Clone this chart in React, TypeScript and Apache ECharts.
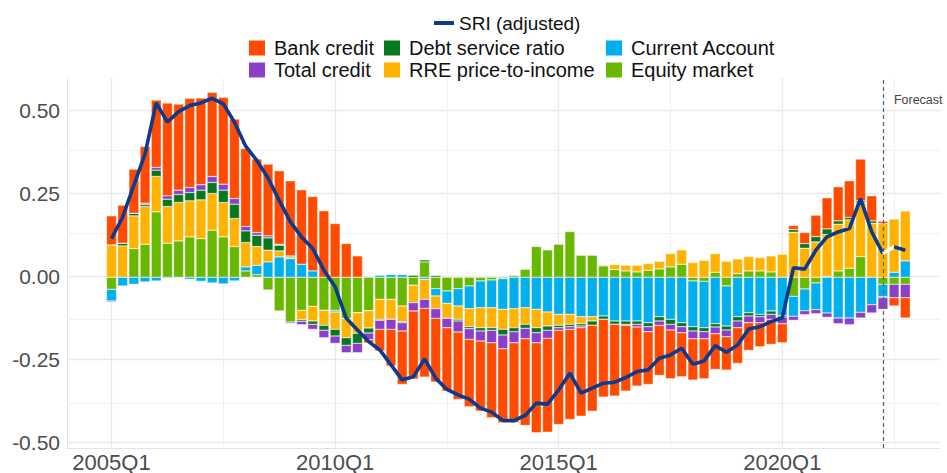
import React, { useEffect, useRef } from "react";
import * as echarts from "echarts";

// ---------- data ----------
const quarters: string[] = [];
for (let y = 2005; y <= 2022; y++) for (let q = 1; q <= 4; q++) quarters.push(`${y}Q${q}`);

const equityMarket = [
  -0.036, 0, 0.086, 0.099, 0.196, 0.102, 0.109, 0.121, 0.116, 0.141, 0.121, 0.092,
  0.019, 0.008, -0.038, -0.101, -0.134, -0.099, -0.087, -0.099, -0.099, -0.124, -0.106, -0.1,
  -0.066, -0.066, -0.086, -0.024, 0.046, -0.034, -0.041, -0.034, -0.026, -0.011, -0.008, -0.004,
  0.005, 0.024, 0.092, 0.082, 0.099, 0.137, 0.066, 0.066, 0.034, 0.023, 0.019, 0.016,
  0.021, 0.025, 0.031, 0.039, -0.011, -0.012, 0.015, -0.026, 0.011, 0.019, 0.019, 0.016,
  0, -0.057, -0.035, -0.017, 0.003, 0.019, 0.027, 0.062, 0, -0.021, -0.021, -0.021,
];
const currentAccount = [
  -0.035, -0.026, -0.021, -0.014, -0.011, -0.003, -0.002, -0.006, -0.012, -0.017, -0.02, -0.011,
  0.012, 0.028, 0.046, 0.061, 0.056, 0.039, 0.019, 0, -0.005, 0, 0, 0,
  0.006, 0.008, 0.008, 0, -0.006, -0.022, -0.037, -0.052, -0.068, -0.08, -0.083, -0.092,
  -0.094, -0.091, -0.096, -0.104, -0.111, -0.111, -0.118, -0.118, -0.116, -0.131, -0.131, -0.131,
  -0.136, -0.118, -0.126, -0.136, -0.137, -0.139, -0.139, -0.12, -0.118, -0.106, -0.111, -0.101,
  -0.114, -0.06, -0.065, -0.08, -0.107, -0.122, -0.122, -0.105, -0.082, -0.037, 0.015, 0.049,
];
const rrePriceToIncome = [
  0.097, 0.094, 0.098, 0.113, 0.106, 0.11, 0.115, 0.108, 0.116, 0.11, 0.103, 0.084,
  0.073, 0.056, 0.035, 0.018, 0.005, -0.028, -0.044, -0.045, -0.052, -0.057, -0.062, -0.052,
  -0.06, -0.06, -0.047, -0.052, -0.06, -0.038, -0.045, -0.04, -0.054, -0.06, -0.06, -0.06,
  -0.057, -0.05, -0.055, -0.042, -0.033, -0.03, -0.021, -0.013, 0.003, 0.015, 0.017, 0.02,
  0.02, 0.023, 0.04, 0.043, 0.044, 0.051, 0.056, 0.048, 0.044, 0.043, 0.04, 0.048,
  0.069, 0.135, 0.087, 0.106, 0.125, 0.14, 0.145, 0.162, 0.162, 0.161, 0.16, 0.15,
];
const debtServiceRatio = [
  0, 0.008, 0.008, 0.006, 0.019, 0.022, 0.024, 0.025, 0.029, 0.033, 0.037, 0.043,
  0.035, 0.034, 0.037, 0.017, 0.003, -0.005, -0.01, -0.015, -0.02, -0.023, -0.03, -0.015,
  -0.003, 0, -0.003, 0.006, 0.006, 0.005, 0, -0.005, -0.006, -0.01, -0.008, -0.017,
  -0.012, -0.012, -0.015, -0.013, -0.007, -0.007, -0.007, -0.013, -0.01, -0.01, -0.01, -0.01,
  -0.012, -0.013, -0.015, -0.012, -0.013, -0.012, -0.01, -0.012, -0.013, -0.01, -0.007, -0.01,
  -0.005, 0.008, 0.014, 0.016, 0.017, 0.01, 0.007, 0.005, 0.007, -0.003, 0, 0,
];
const totalCredit = [
  -0.003, 0, 0, 0.004, 0.008, 0.01, 0.013, 0.015, 0.016, 0.018, 0.018, 0.017,
  0.013, 0.008, 0.006, 0.003, -0.004, -0.01, -0.015, -0.022, -0.022, -0.022, -0.028, -0.02,
  -0.027, -0.03, -0.025, -0.025, -0.027, -0.029, -0.028, -0.033, -0.032, -0.03, -0.037, -0.041,
  -0.033, -0.031, -0.03, -0.024, -0.008, -0.008, -0.005, 0, 0, 0, -0.003, -0.008,
  -0.015, -0.013, -0.017, -0.018, -0.023, -0.021, -0.02, -0.02, -0.02, -0.02, -0.018, -0.015,
  -0.02, -0.012, -0.012, -0.012, -0.013, -0.017, -0.02, -0.017, -0.025, -0.035, -0.04, -0.04,
];
const bankCredit = [
  0.087, 0.114, 0.132, 0.17, 0.202, 0.278, 0.258, 0.267, 0.26, 0.252, 0.26, 0.238,
  0.234, 0.22, 0.215, 0.22, 0.225, 0.223, 0.223, 0.199, 0.161, 0.101, 0.064, -0.01,
  -0.065, -0.11, -0.16, -0.204, -0.206, -0.191, -0.19, -0.202, -0.202, -0.21, -0.225, -0.222,
  -0.24, -0.26, -0.27, -0.281, -0.282, -0.27, -0.265, -0.257, -0.233, -0.215, -0.197, -0.177,
  -0.158, -0.15, -0.146, -0.132, -0.124, -0.12, -0.107, -0.1, -0.107, -0.083, -0.072, -0.075,
  -0.057, 0.012, 0.033, 0.064, 0.093, 0.102, 0.11, 0.125, 0.075, 0.007, -0.025, -0.061,
];
const sriAdjusted = [
  0.114, 0.179, 0.274, 0.369, 0.522, 0.464, 0.496, 0.514, 0.522, 0.536, 0.519, 0.464,
  0.392, 0.349, 0.296, 0.229, 0.164, 0.119, 0.084, 0.019, -0.031, -0.126, -0.161, -0.196,
  -0.221, -0.266, -0.311, -0.302, -0.248, -0.306, -0.34, -0.356, -0.369, -0.396, -0.408, -0.433,
  -0.434, -0.418, -0.381, -0.384, -0.341, -0.291, -0.351, -0.336, -0.321, -0.318, -0.304, -0.286,
  -0.281, -0.246, -0.236, -0.216, -0.264, -0.254, -0.208, -0.228, -0.206, -0.158, -0.151, -0.136,
  -0.124, 0.026, 0.022, 0.079, 0.119, 0.134, 0.144, 0.234, 0.134, 0.069, 0.089, 0.079,
];

const xTickLabels = ["2005Q1", "2010Q1", "2015Q1", "2020Q1"];
const xMinorLabels = ["2007Q3", "2012Q3", "2017Q3", "2022Q3"];
const yTicks = [-0.5, -0.25, 0, 0.25, 0.5];
const yMinorTicks = [-0.375, -0.125, 0.125, 0.375];
const forecastQuarter = "2022Q2";
const gapQuarter = "2022Q3";

// ---------- style ----------
const FONT = "'Liberation Sans', Arial, Helvetica, sans-serif";
const COLORS = {
  bank: "#FF4B00",
  total: "#8A3FC9",
  dsr: "#08781F",
  rre: "#FFB300",
  ca: "#00AFEC",
  equity: "#68B800",
  sri: "#0B3A8E",
};

// panel geometry (pixels)
const PANEL_LEFT = 67;
const PANEL_RIGHT = 940;
const FIRST_X = 111.5;
const STEP = 11.18;
const Y_MIN = -0.516;
const Y_MAX = 0.597;

export default function App() {
  const ref = useRef<HTMLDivElement>(null);

  useEffect(() => {
    if (!ref.current) return;
    const chart = echarts.init(ref.current, undefined, { renderer: "svg" });
    const idx = (q: string) => quarters.indexOf(q);
    const pts = (arr: number[]) => arr.map((v, i) => [i, v]);
    const fIdx = idx(forecastQuarter);
    const gIdx = idx(gapQuarter);

    const xMin = -(FIRST_X - PANEL_LEFT) / STEP;
    const xMax = (PANEL_RIGHT - FIRST_X) / STEP;
    const barLeft = FIRST_X - STEP / 2;
    const barRight = 947 - (barLeft + quarters.length * STEP);

    const barSeries = (name: string, arr: number[], color: string) => ({
      name,
      type: "bar",
      stack: "contrib",
      xAxisIndex: 1,
      yAxisIndex: 1,
      barWidth: 10,
      data: arr,
      itemStyle: { color, borderColor: "#ffffff", borderWidth: 0.4 },
      emphasis: { disabled: true },
      z: 2,
    });

    const legendBase = {
      orient: "vertical",
      top: 38,
      padding: 0,
      icon: "rect",
      itemWidth: 18,
      itemHeight: 17,
      itemGap: 2,
      selectedMode: false,
      textStyle: { fontFamily: FONT, fontSize: 20, color: "#111", lineHeight: 17, padding: [0, 0, 0, 3] },
    };

    const option: any = {
      animation: false,
      backgroundColor: "#ffffff",
      textStyle: { fontFamily: FONT },
      grid: [
        { left: PANEL_LEFT, right: 947 - PANEL_RIGHT, top: 78, bottom: 23.5, containLabel: false },
        { left: barLeft, right: barRight, top: 78, bottom: 23.5, containLabel: false },
      ],
      legend: [
        {
          data: ["SRI (adjusted)"],
          left: 434,
          top: 13,
          padding: 0,
          icon: "rect",
          itemWidth: 20,
          itemHeight: 4,
          selectedMode: false,
          textStyle: { fontFamily: FONT, fontSize: 19, color: "#111", lineHeight: 20 },
        },
        { ...legendBase, left: 247, data: ["Bank credit", "Total credit"] },
        { ...legendBase, left: 382, data: ["Debt service ratio", "RRE price-to-income"] },
        { ...legendBase, left: 604, data: ["Current Account", "Equity market"] },
      ],
      xAxis: [
        {
          type: "value",
          gridIndex: 0,
          min: xMin,
          max: xMax,
          axisLine: { show: true, onZero: false, lineStyle: { color: "#e3e3e3", width: 1 } },
          axisTick: { show: false },
          splitLine: { show: false },
          axisLabel: {
            customValues: xTickLabels.map(idx),
            formatter: (v: number) => quarters[Math.round(v)],
            fontFamily: FONT,
            fontSize: 22,
            color: "#4d4d4d",
            margin: 3,
          },
        },
        {
          type: "category",
          gridIndex: 1,
          data: quarters,
          boundaryGap: true,
          show: false,
        },
      ],
      yAxis: [
        {
          type: "value",
          gridIndex: 0,
          min: Y_MIN,
          max: Y_MAX,
          axisLine: { show: true, onZero: false, lineStyle: { color: "#e3e3e3", width: 1 } },
          axisTick: { show: false },
          splitLine: { show: false },
          axisLabel: {
            customValues: yTicks,
            formatter: (v: number) => v.toFixed(2),
            fontFamily: FONT,
            fontSize: 21,
            color: "#4d4d4d",
            margin: 7,
          },
        },
        {
          type: "value",
          gridIndex: 1,
          min: Y_MIN,
          max: Y_MAX,
          show: false,
          splitLine: { show: false },
        },
      ],
      series: [
        {
          type: "line",
          name: "grid-major",
          data: [],
          silent: true,
          markLine: {
            silent: true,
            z: 1,
            symbol: ["none", "none"],
            label: { show: false },
            emphasis: { disabled: true },
            lineStyle: { color: "#e9e9e9", width: 1.3, type: "solid" },
            data: [
              ...xTickLabels.map((q) => ({ xAxis: idx(q) })),
              ...yTicks.map((v) => ({ yAxis: v })),
            ],
          },
        },
        {
          type: "line",
          name: "grid-minor",
          data: [],
          silent: true,
          markLine: {
            silent: true,
            z: 1,
            symbol: ["none", "none"],
            label: { show: false },
            emphasis: { disabled: true },
            lineStyle: { color: "#f1f1f1", width: 1, type: "solid" },
            data: [
              ...xMinorLabels.map((q) => ({ xAxis: idx(q) })),
              ...yMinorTicks.map((v) => ({ yAxis: v })),
            ],
          },
        },
        barSeries("Equity market", equityMarket, COLORS.equity),
        barSeries("Current Account", currentAccount, COLORS.ca),
        barSeries("RRE price-to-income", rrePriceToIncome, COLORS.rre),
        barSeries("Debt service ratio", debtServiceRatio, COLORS.dsr),
        barSeries("Total credit", totalCredit, COLORS.total),
        barSeries("Bank credit", bankCredit, COLORS.bank),
        {
          name: "SRI (adjusted)",
          type: "line",
          data: pts(sriAdjusted).slice(0, fIdx + 1),
          symbol: "none",
          lineStyle: { color: COLORS.sri, width: 3.6 },
          itemStyle: { color: COLORS.sri },
          emphasis: { disabled: true },
          z: 4,
        },
        {
          name: "sri-gap",
          type: "line",
          data: pts(sriAdjusted).slice(fIdx, gIdx + 1),
          symbol: "none",
          lineStyle: { color: "#ffffff", width: 3.6 },
          emphasis: { disabled: true },
          z: 4,
        },
        {
          name: "sri-tail",
          type: "line",
          data: pts(sriAdjusted).slice(gIdx),
          symbol: "none",
          lineStyle: { color: COLORS.sri, width: 3.6 },
          emphasis: { disabled: true },
          z: 4,
        },
        {
          type: "line",
          name: "forecast-line",
          data: [],
          silent: true,
          markLine: {
            silent: true,
            z: 5,
            symbol: ["none", "none"],
            emphasis: { disabled: true },
            lineStyle: { color: "#666666", width: 1.3, type: [4, 3] },
            label: {
              show: true,
              position: "end",
              formatter: "Forecast",
              fontFamily: FONT,
              fontSize: 12.5,
              color: "#444",
              align: "left",
              verticalAlign: "top",
              offset: [11, 20],
            },
            data: [{ xAxis: fIdx }],
          },
        },
      ],
    };

    chart.setOption(option);
    return () => chart.dispose();
  }, []);

  return (
    <div
      ref={ref}
      style={{ position: "fixed", left: 0, top: 0, width: 947, height: 473, background: "#fff" }}
    />
  );
}
